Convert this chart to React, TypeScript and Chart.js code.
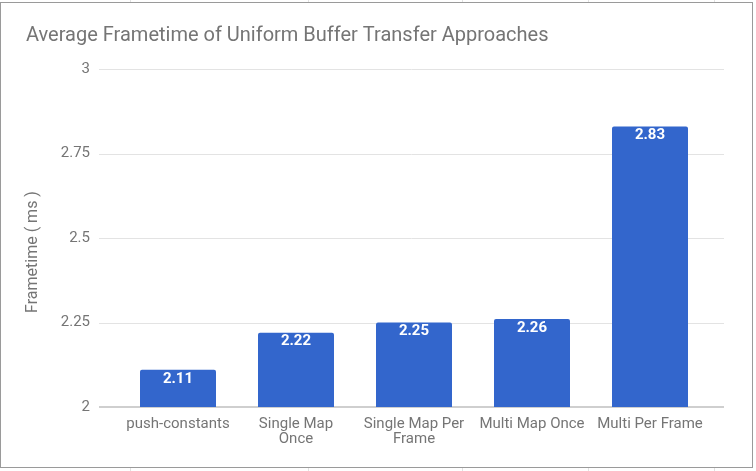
import React, { useEffect, useRef } from "react";
import { Chart, registerables } from "chart.js";

Chart.register(...registerables);

const TITLE = "Average Frametime of Uniform Buffer Transfer Approaches";
const Y_TITLE = "Frametime ( ms )";
const categories: (string | string[])[] = [
  "push-constants",
  ["Single Map", "Once"],
  ["Single Map Per", "Frame"],
  "Multi Map Once",
  "Multi Per Frame",
];
const frametimes = [2.11, 2.22, 2.25, 2.26, 2.83];
const yTicks = [2, 2.25, 2.5, 2.75, 3];

const FONT = "Roboto, 'Noto Sans', Arial, sans-serif";
const GRAY = "#757575";

const gridPlugin = {
  id: "customGrid",
  beforeDatasetsDraw(chart: any) {
    const { ctx, chartArea, scales } = chart;
    const y = scales.y;
    ctx.save();
    yTicks.forEach((v, i) => {
      const py = Math.round(y.getPixelForValue(v));
      ctx.beginPath();
      if (i === 0) {
        ctx.strokeStyle = "#cfcfcf";
        ctx.lineWidth = 2;
      } else {
        ctx.strokeStyle = "#e3e3e3";
        ctx.lineWidth = 1;
      }
      const off = i === 0 ? 0 : 0.5;
      ctx.moveTo(chartArea.left - 20, py + off);
      ctx.lineTo(chartArea.right + 15, py + off);
      ctx.stroke();
    });
    ctx.restore();
  },
  afterDatasetsDraw(chart: any) {
    const { ctx } = chart;
    const meta = chart.getDatasetMeta(0);
    ctx.save();
    ctx.fillStyle = "#ffffff";
    ctx.font = `bold 15px ${FONT}`;
    ctx.textAlign = "center";
    ctx.textBaseline = "middle";
    meta.data.forEach((bar: any, i: number) => {
      ctx.fillText(String(frametimes[i]), bar.x, bar.y + 9);
    });
    ctx.restore();
  },
  afterDraw(chart: any) {
    const { ctx } = chart;
    ctx.save();
    ctx.fillStyle = GRAY;
    ctx.font = `20px ${FONT}`;
    ctx.textAlign = "left";
    ctx.textBaseline = "middle";
    ctx.fillText(TITLE, 26, 36);
    ctx.translate(33, 252);
    ctx.rotate(-Math.PI / 2);
    ctx.font = `16px ${FONT}`;
    ctx.textAlign = "center";
    ctx.fillText(Y_TITLE, 0, 0);
    ctx.restore();
  },
};

export default function App() {
  const ref = useRef<HTMLCanvasElement>(null);
  useEffect(() => {
    document.body.style.margin = "0";
    const chart = new Chart(ref.current!, {
      type: "bar",
      data: {
        labels: categories,
        datasets: [
          {
            data: frametimes,
            backgroundColor: "#3366cc",
            borderRadius: 2,
            borderSkipped: "bottom",
            barPercentage: 76 / 118,
            categoryPercentage: 1,
          },
        ],
      },
      options: {
        animation: false,
        responsive: false,
        maintainAspectRatio: false,
        layout: { padding: { top: 69, right: 47, bottom: 0, left: 0 } },
        plugins: {
          legend: { display: false },
          tooltip: { enabled: false },
          title: { display: false },
        },
        scales: {
          x: {
            offset: true,
            grid: { display: false },
            border: { display: false },
            ticks: {
              color: GRAY,
              font: { family: FONT, size: 15, lineHeight: 0.97 },
              padding: 2,
              maxRotation: 0,
              autoSkip: false,
            },
            afterFit(scale: any) {
              scale.height = 64;
            },
          },
          y: {
            min: 2,
            max: 3,
            afterBuildTicks(scale: any) {
              scale.ticks = yTicks.map((v) => ({ value: v }));
            },
            grid: { display: false, drawTicks: false },
            border: { display: false },
            ticks: {
              color: GRAY,
              font: { family: FONT, size: 15 },
              padding: 29,
              callback: (v: any) => String(v),
            },
            afterFit(scale: any) {
              scale.width = 119;
            },
          },
        },
      },
      plugins: [gridPlugin],
    });
    return () => chart.destroy();
  }, []);

  const colLines = [130, 308, 462, 588, 714];
  return (
    <div style={{ position: "relative", width: 756, height: 471, background: "#fff", overflow: "hidden" }}>
      {colLines.map((x) => (
        <React.Fragment key={x}>
          <div style={{ position: "absolute", left: x, top: 0, width: 1, height: 3, background: "#e2e2e2" }} />
          <div style={{ position: "absolute", left: x, top: 468, width: 1, height: 3, background: "#e2e2e2" }} />
        </React.Fragment>
      ))}
      <canvas ref={ref} width={756} height={471} style={{ position: "absolute", left: 0, top: 0, width: 756, height: 471 }} />
      <div
        style={{
          position: "absolute",
          left: 0,
          top: 2,
          width: 753,
          height: 466,
          boxSizing: "border-box",
          border: "1px solid #9a9a9a",
          pointerEvents: "none",
        }}
      />
    </div>
  );
}
